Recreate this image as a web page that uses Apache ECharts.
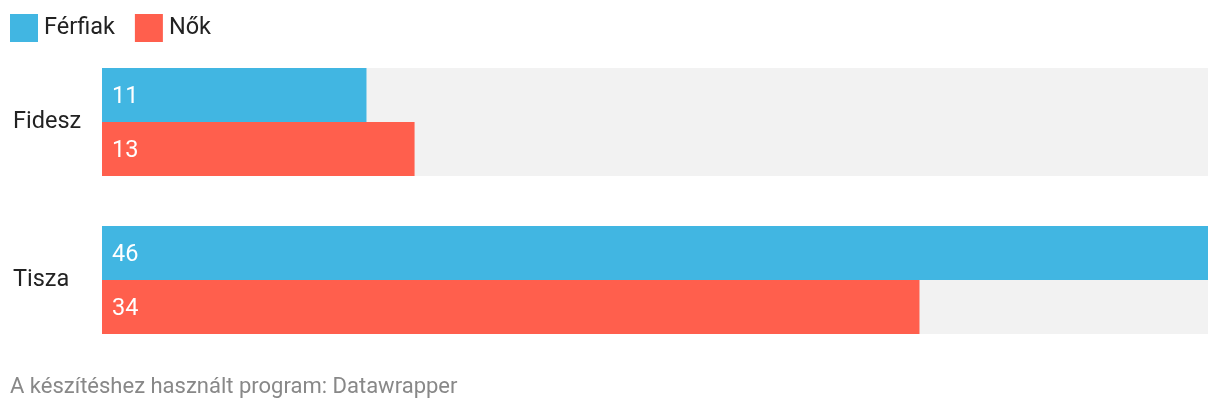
<!DOCTYPE html>
<html>
<head>
<meta charset="utf-8">
<script src="https://cdn.jsdelivr.net/npm/echarts@6/dist/echarts.min.js"></script>
<style>
  html, body { margin: 0; padding: 0; background: #fff; }
  #chart { width: 1220px; height: 412px; }
</style>
</head>
<body>
<div id="chart"></div>
<script>
const categories = ['Fidesz', 'Tisza']
const seriesNames = ['Férfiak', 'Nők']
const ferfiak = [11, 46]
const nok = [13, 34]
const colors = ['#41b6e2', '#ff5f4d']

const chart = echarts.init(document.getElementById('chart'), null, { renderer: 'canvas' })

const barSeries = (name, data, color) => ({
  name,
  type: 'bar',
  data,
  barWidth: 54,
  barGap: '0%',
  color,
  showBackground: true,
  backgroundStyle: { color: '#f2f2f2' },
  label: {
    show: true,
    position: 'insideLeft',
    distance: 10,
    offset: [0, 2],
    color: '#fff',
    fontSize: 23.5,
    fontFamily: 'Roboto',
  },
  emphasis: { disabled: true },
})

chart.setOption({
  animation: false,
  textStyle: { fontFamily: 'Roboto' },
  legend: {
    data: seriesNames,
    left: 10,
    top: 14,
    padding: 0,
    icon: 'rect',
    itemWidth: 28,
    itemHeight: 28,
    itemGap: 20,
    textStyle: { fontSize: 23.5, color: '#222', fontFamily: 'Roboto', padding: [3, 0, 0, 1] },
  },
  title: {
    text: 'A készítéshez használt program: Datawrapper',
    left: 10,
    top: 376,
    padding: 0,
    textStyle: { fontSize: 22, fontWeight: 'normal', color: '#888', fontFamily: 'Roboto' },
  },
  grid: { left: 102, right: 12, top: 43, bottom: 53 },
  xAxis: {
    type: 'value',
    min: 0,
    max: 46,
    show: false,
  },
  yAxis: {
    type: 'category',
    data: categories,
    inverse: true,
    axisLine: { show: false },
    axisTick: { show: false },
    axisLabel: {
      align: 'left',
      margin: 89,
      fontSize: 23.5,
      color: '#222',
      fontFamily: 'Roboto',
      padding: [8, 0, 0, 0],
    },
  },
  series: [
    barSeries(seriesNames[0], ferfiak, colors[0]),
    barSeries(seriesNames[1], nok, colors[1]),
  ],
})
</script>
</body>
</html>
